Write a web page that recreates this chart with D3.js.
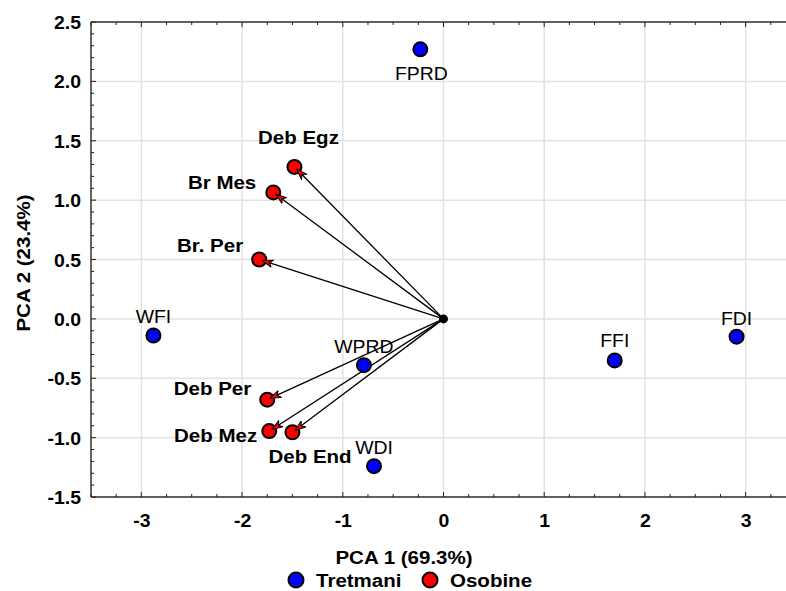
<!DOCTYPE html>
<html>
<head>
<meta charset="utf-8">
<script src="https://cdn.jsdelivr.net/npm/d3@7"></script>
<style>
  html, body { margin: 0; padding: 0; background: #fff; }
  svg { display: block; font-family: "Liberation Sans", Arial, sans-serif; }
</style>
</head>
<body>
<svg id="chart" width="786" height="591"></svg>
<script>
// ---------------- DATA ----------------
const treatmentNames = ["FPRD", "WFI", "FDI", "FFI", "WPRD", "WDI"];
const treatmentPC1   = [-0.23, -2.88, 2.91, 1.70, -0.79, -0.69];
const treatmentPC2   = [2.27, -0.14, -0.15, -0.35, -0.39, -1.24];

const traitNames = ["Deb Egz", "Br Mes", "Br. Per", "Deb Per", "Deb Mez", "Deb End"];
const traitPC1   = [-1.48, -1.69, -1.83, -1.75, -1.73, -1.50];
const traitPC2   = [1.28, 1.065, 0.50, -0.68, -0.945, -0.955];

const xTickValues = [-3, -2, -1, 0, 1, 2, 3];
const xTickLabels = ["-3", "-2", "-1", "0", "1", "2", "3"];
const yTickValues = [2.5, 2.0, 1.5, 1.0, 0.5, 0.0, -0.5, -1.0, -1.5];
const yTickLabels = ["2.5", "2.0", "1.5", "1.0", "0.5", "0.0", "-0.5", "-1.0", "-1.5"];

const xTitle = "PCA 1 (69.3%)";
const yTitle = "PCA 2 (23.4%)";
const legendNames = ["Tretmani", "Osobine"];

// ---------------- LAYOUT / STYLE ----------------
const SX = 1.08; // slight horizontal text stretch seen in the reference
const FS = 19;   // bold text size
const colors = { treat: "#0000ff", trait: "#ff0000", grid: "#e2e2e2", frame: "#333" };
// label placement relative to point (px): [dx, dy, anchor]
const treatLabelPos = {
  "FPRD": [1, 31, "middle"], "WFI": [0, -13, "middle"], "FDI": [0, -12, "middle"],
  "FFI": [0, -13, "middle"], "WPRD": [0, -12, "middle"], "WDI": [0, -12, "middle"]
};
const traitLabelPos = {
  "Deb Egz": [4, -23, "middle"], "Br Mes": [-17, -3, "end"], "Br. Per": [-16, -8, "end"],
  "Deb Per": [-16, -5, "end"], "Deb Mez": [-12, 11, "end"], "Deb End": [-24, 31, "start"]
};

const svg = d3.select("#chart");
const x = d3.scaleLinear().domain([-3.5, 3.5]).range([91, 796]);
const y = d3.scaleLinear().domain([-1.5, 2.5]).range([497, 22]);

function stretchText(sel, px, py, str, size, weight, anchor) {
  return sel.append("text")
    .attr("transform", `translate(${px},${py}) scale(${SX},1)`)
    .attr("text-anchor", anchor)
    .attr("font-size", size)
    .attr("font-weight", weight)
    .attr("fill", "#000")
    .text(str);
}

// grid
const grid = svg.append("g");
xTickValues.forEach(v => grid.append("line")
  .attr("x1", x(v)).attr("x2", x(v)).attr("y1", y(2.5)).attr("y2", y(-1.5))
  .attr("stroke", colors.grid).attr("stroke-width", 1.5));
yTickValues.forEach(v => grid.append("line")
  .attr("x1", x(-3.5)).attr("x2", x(3.5)).attr("y1", y(v)).attr("y2", y(v))
  .attr("stroke", colors.grid).attr("stroke-width", 1.5));

// frame
const frame = svg.append("g").attr("stroke", colors.frame).attr("stroke-width", 1.5);
frame.append("line").attr("x1", x(-3.5)).attr("x2", x(-3.5)).attr("y1", y(2.5)).attr("y2", y(-1.5));
frame.append("line").attr("x1", x(-3.5)).attr("x2", x(3.5)).attr("y1", y(2.5)).attr("y2", y(2.5));
frame.append("line").attr("x1", x(-3.5)).attr("x2", x(3.5)).attr("y1", y(-1.5)).attr("y2", y(-1.5));
frame.append("line").attr("x1", x(3.5)).attr("x2", x(3.5)).attr("y1", y(2.5)).attr("y2", y(-1.5));

// inward ticks
const ticks = svg.append("g").attr("stroke", "#222").attr("stroke-width", 1);
d3.range(-3.5, 3.51, 0.25).forEach(v => {
  const major = Math.abs(v - Math.round(v)) < 1e-6;
  const L = major ? 5 : 3;
  ticks.append("line").attr("x1", x(v)).attr("x2", x(v)).attr("y1", y(-1.5)).attr("y2", y(-1.5) - L);
  ticks.append("line").attr("x1", x(v)).attr("x2", x(v)).attr("y1", y(2.5)).attr("y2", y(2.5) + L);
});
d3.range(-1.5, 2.51, 0.1).forEach(v => {
  const major = Math.abs(v * 2 - Math.round(v * 2)) < 1e-6;
  const L = major ? 5 : 3;
  ticks.append("line").attr("x1", x(-3.5)).attr("x2", x(-3.5) + L).attr("y1", y(v)).attr("y2", y(v));
});

// axes tick labels via d3 axes
const xAxis = svg.append("g").attr("transform", `translate(0,${y(-1.5)})`)
  .call(d3.axisBottom(x).tickValues(xTickValues).tickSize(0).tickPadding(0)
    .tickFormat((d, i) => xTickLabels[i]));
xAxis.select(".domain").remove();
xAxis.selectAll("text").attr("y", 30).attr("dy", 0)
  .attr("font-size", 18).attr("font-weight", "bold").attr("fill", "#000")
  .attr("font-family", "Liberation Sans, Arial, sans-serif")
  .attr("transform", `scale(${SX},1)`);

const yAxis = svg.append("g").attr("transform", `translate(${x(-3.5)},0)`)
  .call(d3.axisLeft(y).tickValues(yTickValues).tickSize(0).tickPadding(0)
    .tickFormat((d, i) => yTickLabels[i]));
yAxis.select(".domain").remove();
yAxis.selectAll("text").attr("x", -10 / SX).attr("dy", 6.5)
  .attr("font-size", 18).attr("font-weight", "bold").attr("fill", "#000")
  .attr("font-family", "Liberation Sans, Arial, sans-serif")
  .attr("transform", `scale(${SX},1)`);

// axis titles
stretchText(svg, 404, 564, xTitle, FS, "bold", "middle");
svg.append("text")
  .attr("transform", `translate(30,263) rotate(-90) scale(${SX},1)`)
  .attr("text-anchor", "middle").attr("font-size", FS).attr("font-weight", "bold")
  .text(yTitle);

// arrow marker
const defs = svg.append("defs");
defs.append("marker").attr("id", "arr")
  .attr("viewBox", "0 -4 10 8").attr("refX", 10).attr("refY", 0)
  .attr("markerUnits", "userSpaceOnUse")
  .attr("markerWidth", 11).attr("markerHeight", 9).attr("orient", "auto")
  .append("path").attr("d", "M0,-3.5L10,0L0,3.5L3,0Z")
  .attr("fill", colors.trait).attr("stroke", "#000").attr("stroke-width", 0.9);

const R = 7;
const plot = svg.append("g");

// trait points
traitNames.forEach((n, i) => {
  plot.append("circle").attr("cx", x(traitPC1[i])).attr("cy", y(traitPC2[i])).attr("r", R)
    .attr("fill", colors.trait).attr("stroke", "#000").attr("stroke-width", 2);
});

// arrows
const ox = x(0), oy = y(0);
traitNames.forEach((n, i) => {
  const tx = x(traitPC1[i]), ty = y(traitPC2[i]);
  const dx = tx - ox, dy = ty - oy, len = Math.hypot(dx, dy);
  const ex = ox + dx * (len - 3) / len, ey = oy + dy * (len - 3) / len;
  plot.append("line").attr("x1", ox).attr("y1", oy).attr("x2", ex).attr("y2", ey)
    .attr("stroke", "#000").attr("stroke-width", 1.3).attr("marker-end", "url(#arr)");
});

// treatment points
treatmentNames.forEach((n, i) => {
  plot.append("circle").attr("cx", x(treatmentPC1[i])).attr("cy", y(treatmentPC2[i])).attr("r", R)
    .attr("fill", colors.treat).attr("stroke", "#000").attr("stroke-width", 2);
});

// origin
plot.append("circle").attr("cx", ox).attr("cy", oy).attr("r", 4.5).attr("fill", "#000");

// labels
treatmentNames.forEach((n, i) => {
  const p = treatLabelPos[n];
  stretchText(plot, x(treatmentPC1[i]) + p[0], y(treatmentPC2[i]) + p[1], n, 18, "normal", p[2]);
});
traitNames.forEach((n, i) => {
  const p = traitLabelPos[n];
  stretchText(plot, x(traitPC1[i]) + p[0], y(traitPC2[i]) + p[1], n, FS, "bold", p[2]);
});

// legend
const leg = svg.append("g");
const legX = [296, 430];
legendNames.forEach((n, i) => {
  leg.append("circle").attr("cx", legX[i]).attr("cy", 580).attr("r", 7.5)
    .attr("fill", i === 0 ? colors.treat : colors.trait).attr("stroke", "#000").attr("stroke-width", 2);
  stretchText(leg, legX[i] + 20, 587, n, FS, "bold", "start");
});
</script>
</body>
</html>
